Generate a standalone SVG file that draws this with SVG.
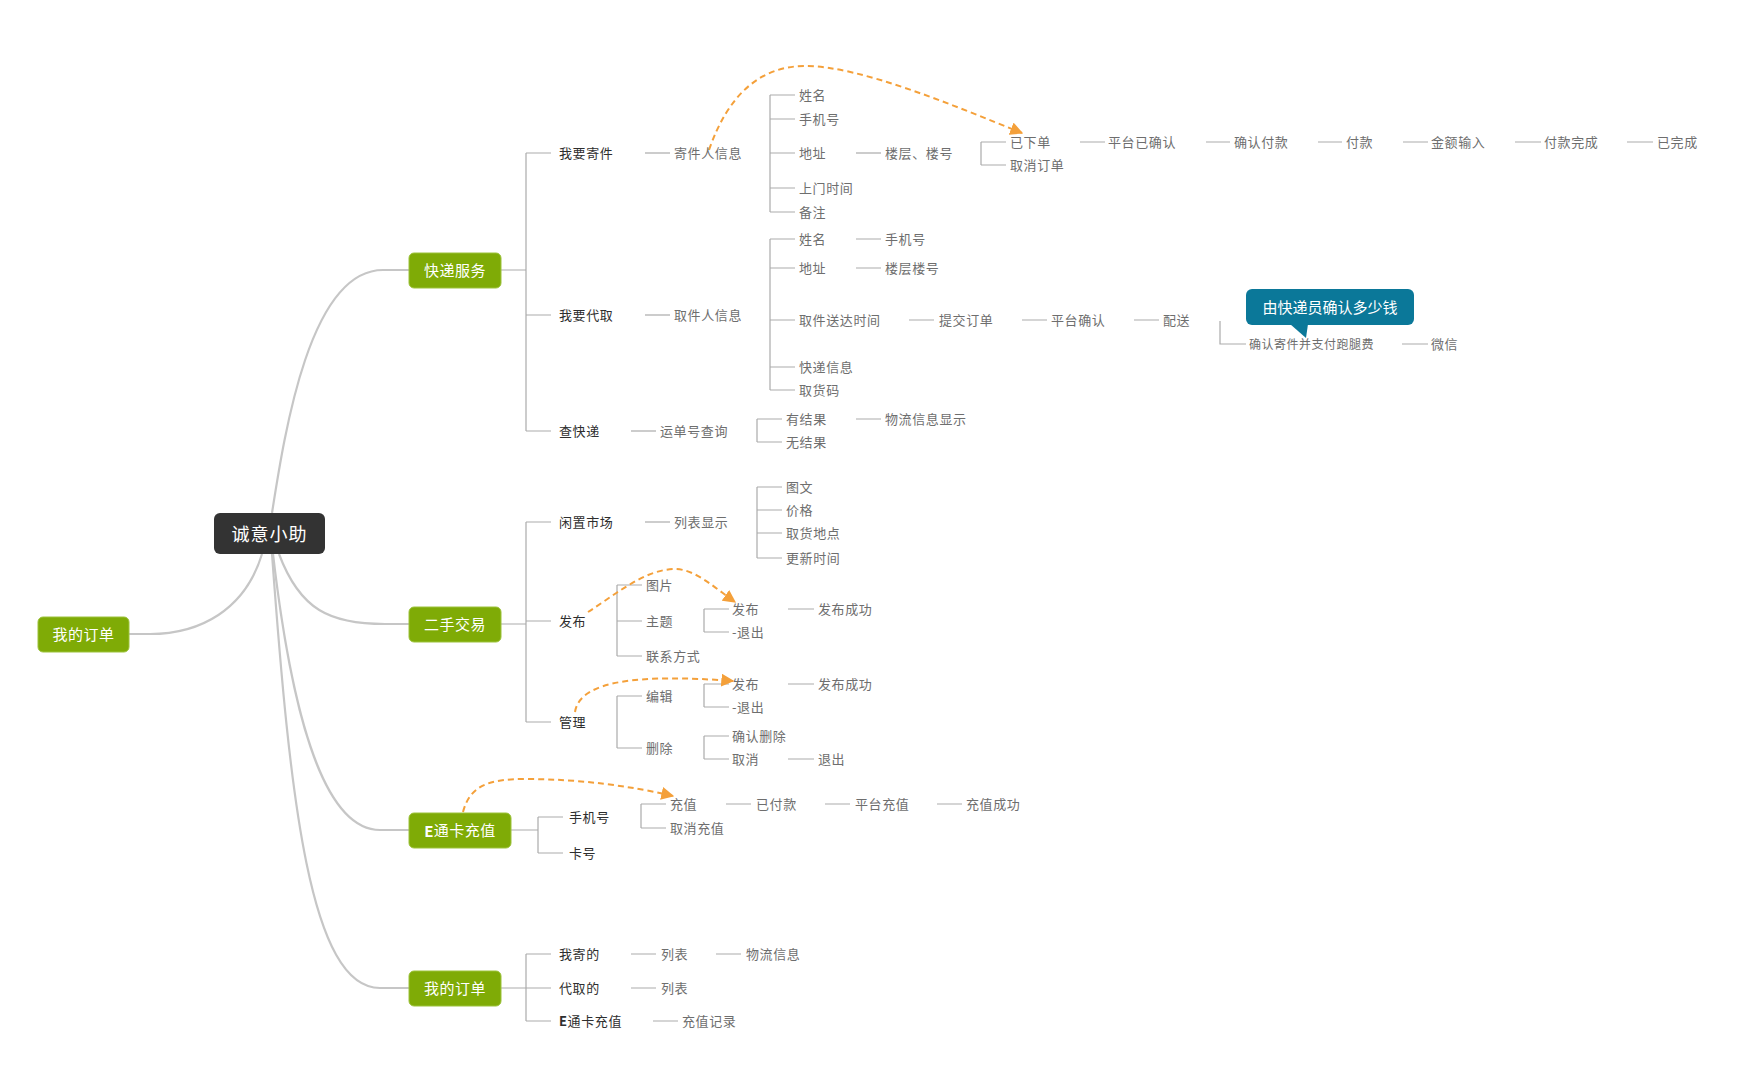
<svg xmlns="http://www.w3.org/2000/svg" width="1738" height="1071" viewBox="0 0 1738 1071">
<style>
text{font-family:"Noto Sans CJK SC","Liberation Sans",sans-serif;dominant-baseline:central}
.l2{font-size:13px;fill:#2e2e2e;letter-spacing:0.6px}
.l3{font-size:13px;fill:#6e6e6e;letter-spacing:0.6px}
.sm{font-size:12px;fill:#6e6e6e;letter-spacing:0.5px}
.box{fill:#7fab06;stroke:#9cc23a;stroke-width:1}
.bt{font-size:15px;fill:#ffffff;text-anchor:middle;letter-spacing:0.5px}
.root{fill:none;stroke:#c6c6c6;stroke-width:2.2}
.ln{fill:none;stroke:#ababab;stroke-width:1.2}
.rel{fill:none;stroke:#f4a03a;stroke-width:2;stroke-dasharray:6 4}
.b{font-weight:bold}
</style>
<defs>
<marker id="ah" viewBox="0 0 10 10" refX="9" refY="5" markerWidth="13" markerHeight="13" markerUnits="userSpaceOnUse" orient="auto">
<path d="M0,0 L10,5 L0,10 z" fill="#f4a03a"/>
</marker>
</defs>
<rect width="1738" height="1071" fill="#ffffff"/>

<g id="connectors">
<path class="root" d="M272,513 C285,430 310,270 383,270 L409,270"/>
<path class="root" d="M279,554 C300,610 330,624 385,624 L409,624"/>
<path class="root" d="M262,554 C245,610 200,634 150,634 L129,634"/>
<path class="root" d="M273,554 C290,700 320,830 380,830 L409,830"/>
<path class="root" d="M272,554 C290,800 310,988 380,988 L409,988"/>

<path class="ln" d="M501,270 H526 M526,153 V431 M526,153 H551 M526,315 H551 M526,431 H551"/>
<path class="ln" d="M645,153 H670"/>
<path class="ln" d="M770,95 V212 M770,95 H795 M770,119 H795 M770,153 H795 M770,188 H795 M770,212 H795"/>
<path class="ln" d="M856,153 H881"/>
<path class="ln" d="M981,142 V165 M981,142 H1006 M981,165 H1006"/>
<path class="ln" d="M1080,142 H1105 M1206,142 H1230 M1318,142 H1342 M1403,142 H1428 M1515,142 H1541 M1627,142 H1653"/>
<path class="ln" d="M645,315 H670"/>
<path class="ln" d="M770,239 V390 M770,239 H795 M770,268 H795 M770,320 H795 M770,367 H795 M770,390 H795"/>
<path class="ln" d="M856,239 H881 M856,268 H881 M909,320 H934 M1022,320 H1047 M1134,320 H1159"/>
<path class="ln" d="M1220,321 V344 H1246 M1402,344 H1428"/>
<path class="ln" d="M631,431 H656"/>
<path class="ln" d="M757,419 V442 M757,419 H782 M757,442 H782 M856,419 H881"/>

<path class="ln" d="M501,624 H526 M526,522 V722 M526,522 H551 M526,621 H551 M526,722 H551"/>
<path class="ln" d="M645,522 H670"/>
<path class="ln" d="M757,487 V558 M757,487 H782 M757,510 H782 M757,533 H782 M757,558 H782"/>
<path class="ln" d="M617,585 V656 M617,585 H642 M617,621 H642 M617,656 H642"/>
<path class="ln" d="M704,609 V632 M704,609 H729 M704,632 H729 M788,609 H814"/>
<path class="ln" d="M617,696 V748 M617,696 H642 M617,748 H642"/>
<path class="ln" d="M704,684 V707 M704,684 H729 M704,707 H729 M788,684 H814"/>
<path class="ln" d="M704,736 V759 M704,736 H729 M704,759 H729 M788,759 H814"/>

<path class="ln" d="M511,830 H538 M538,817 V853 M538,817 H563 M538,853 H563"/>
<path class="ln" d="M641,804 V828 M641,804 H666 M641,828 H666"/>
<path class="ln" d="M726,804 H751 M825,804 H850 M937,804 H962"/>

<path class="ln" d="M501,988 H526 M526,954 V1021 M526,954 H551 M526,988 H551 M526,1021 H551"/>
<path class="ln" d="M631,954 H656 M716,954 H741 M631,988 H656 M653,1021 H678"/>

<path class="rel" marker-end="url(#ah)" d="M709,150 C728,95 760,66 805,66 C860,66 950,104 1022,133"/>
<path class="rel" marker-end="url(#ah)" d="M588,612 C615,595 645,569 675,569 C695,569 715,588 735,602"/>
<path class="rel" marker-end="url(#ah)" d="M575,712 C580,680 640,674 733,681"/>
<path class="rel" marker-end="url(#ah)" d="M463,812 C470,785 490,779 525,779 C580,779 630,786 673,796"/>
</g>

<g id="central"><rect x="214" y="513" width="111" height="41" rx="6" fill="#333333"/><text x="269.5" y="533" style="font-size:18px;fill:#ffffff;text-anchor:middle;letter-spacing:1px">诚意小助</text></g>

<g id="kuaidi"><rect class="box" x="409" y="253" width="92" height="35" rx="5"/><text class="bt" x="455" y="269.5">快递服务</text></g>
<g id="ershou"><rect class="box" x="409" y="607" width="92" height="35" rx="5"/><text class="bt" x="455" y="623.5">二手交易</text></g>
<g id="etong"><rect class="box" x="409" y="813" width="102" height="35" rx="5"/><text class="bt" x="460" y="829.5"><tspan class="b">E</tspan>通卡充值</text></g>
<g id="dingdan"><rect class="box" x="409" y="971" width="92" height="35" rx="5"/><text class="bt" x="455" y="987.5">我的订单</text></g>
<g id="dingdan-left"><rect class="box" x="38" y="617" width="91" height="35" rx="5"/><text class="bt" x="83.5" y="633.5">我的订单</text></g>

<g id="n-jijian"><text class="l2" x="559" y="152">我要寄件</text></g>
<g id="n-jijianinfo"><text class="l3" x="674" y="152">寄件人信息</text></g>
<g id="n-j-name"><text class="l3" x="799" y="94">姓名</text></g>
<g id="n-j-phone"><text class="l3" x="799" y="118">手机号</text></g>
<g id="n-j-addr"><text class="l3" x="799" y="152">地址</text></g>
<g id="n-j-floor"><text class="l3" x="885" y="152">楼层、楼号</text></g>
<g id="n-j-time"><text class="l3" x="799" y="187">上门时间</text></g>
<g id="n-j-note"><text class="l3" x="799" y="211">备注</text></g>
<g id="n-yixiadan"><text class="l3" x="1010" y="141">已下单</text></g>
<g id="n-quxiao"><text class="l3" x="1010" y="164">取消订单</text></g>
<g id="n-pt"><text class="l3" x="1108" y="141">平台已确认</text></g>
<g id="n-qrfk"><text class="l3" x="1234" y="141">确认付款</text></g>
<g id="n-fk"><text class="l3" x="1346" y="141">付款</text></g>
<g id="n-jesr"><text class="l3" x="1431" y="141">金额输入</text></g>
<g id="n-fkwc"><text class="l3" x="1544" y="141">付款完成</text></g>
<g id="n-ywc"><text class="l3" x="1657" y="141">已完成</text></g>

<g id="n-daiqu"><text class="l2" x="559" y="314">我要代取</text></g>
<g id="n-qjinfo"><text class="l3" x="674" y="314">取件人信息</text></g>
<g id="n-q-name"><text class="l3" x="799" y="238">姓名</text></g>
<g id="n-q-phone"><text class="l3" x="885" y="238">手机号</text></g>
<g id="n-q-addr"><text class="l3" x="799" y="267">地址</text></g>
<g id="n-q-floor"><text class="l3" x="885" y="267">楼层楼号</text></g>
<g id="n-q-time"><text class="l3" x="799" y="319">取件送达时间</text></g>
<g id="n-q-submit"><text class="l3" x="939" y="319">提交订单</text></g>
<g id="n-q-pt"><text class="l3" x="1051" y="319">平台确认</text></g>
<g id="n-q-ps"><text class="l3" x="1163" y="319">配送</text></g>
<g id="n-q-confirm"><text class="sm" x="1249" y="343">确认寄件并支付跑腿费</text></g>
<g id="n-q-wx"><text class="l3" x="1431" y="343">微信</text></g>
<g id="n-q-info"><text class="l3" x="799" y="366">快递信息</text></g>
<g id="n-q-code"><text class="l3" x="799" y="389">取货码</text></g>
<g id="callout"><rect x="1246" y="289" width="168" height="36" rx="6" fill="#0b7899"/><path d="M1290,324 L1308,324 L1306,338 z" fill="#0b7899"/><text x="1330" y="306.5" style="font-size:15px;fill:#ffffff;text-anchor:middle">由快递员确认多少钱</text></g>

<g id="n-cha"><text class="l2" x="559" y="430">查快递</text></g>
<g id="n-ydh"><text class="l3" x="660" y="430">运单号查询</text></g>
<g id="n-yjg"><text class="l3" x="786" y="418">有结果</text></g>
<g id="n-wl"><text class="l3" x="885" y="418">物流信息显示</text></g>
<g id="n-wjg"><text class="l3" x="786" y="441">无结果</text></g>

<g id="n-xz"><text class="l2" x="559" y="521">闲置市场</text></g>
<g id="n-lb"><text class="l3" x="674" y="521">列表显示</text></g>
<g id="n-tw"><text class="l3" x="786" y="486">图文</text></g>
<g id="n-jg"><text class="l3" x="786" y="509">价格</text></g>
<g id="n-qhdd"><text class="l3" x="786" y="532">取货地点</text></g>
<g id="n-gxsj"><text class="l3" x="786" y="557">更新时间</text></g>
<g id="n-fb"><text class="l2" x="559" y="620">发布</text></g>
<g id="n-tp"><text class="l3" x="646" y="584">图片</text></g>
<g id="n-zt"><text class="l3" x="646" y="620">主题</text></g>
<g id="n-lxfs"><text class="l3" x="646" y="655">联系方式</text></g>
<g id="n-fb2"><text class="l3" x="732" y="608">发布</text></g>
<g id="n-fbcg"><text class="l3" x="818" y="608">发布成功</text></g>
<g id="n-tc"><text class="l3" x="732" y="631">-退出</text></g>
<g id="n-gl"><text class="l2" x="559" y="721">管理</text></g>
<g id="n-bj"><text class="l3" x="646" y="695">编辑</text></g>
<g id="n-sc"><text class="l3" x="646" y="747">删除</text></g>
<g id="n-fb3"><text class="l3" x="732" y="683">发布</text></g>
<g id="n-fbcg2"><text class="l3" x="818" y="683">发布成功</text></g>
<g id="n-tc2"><text class="l3" x="732" y="706">-退出</text></g>
<g id="n-qrsc"><text class="l3" x="732" y="735">确认删除</text></g>
<g id="n-qx"><text class="l3" x="732" y="758">取消</text></g>
<g id="n-tc3"><text class="l3" x="818" y="758">退出</text></g>

<g id="n-e-phone"><text class="l2" x="569" y="816">手机号</text></g>
<g id="n-e-card"><text class="l2" x="569" y="852">卡号</text></g>
<g id="n-cz"><text class="l3" x="670" y="803">充值</text></g>
<g id="n-qxcz"><text class="l3" x="670" y="827">取消充值</text></g>
<g id="n-yfk"><text class="l3" x="756" y="803">已付款</text></g>
<g id="n-ptcz"><text class="l3" x="855" y="803">平台充值</text></g>
<g id="n-czcg"><text class="l3" x="966" y="803">充值成功</text></g>

<g id="n-wjd"><text class="l2" x="559" y="953">我寄的</text></g>
<g id="n-lb1"><text class="l3" x="661" y="953">列表</text></g>
<g id="n-wlxx"><text class="l3" x="746" y="953">物流信息</text></g>
<g id="n-dqd"><text class="l2" x="559" y="987">代取的</text></g>
<g id="n-lb2"><text class="l3" x="661" y="987">列表</text></g>
<g id="n-etcz"><text class="l2" x="559" y="1020"><tspan class="b">E</tspan>通卡充值</text></g>
<g id="n-czjl"><text class="l3" x="682" y="1020">充值记录</text></g>
</svg>
